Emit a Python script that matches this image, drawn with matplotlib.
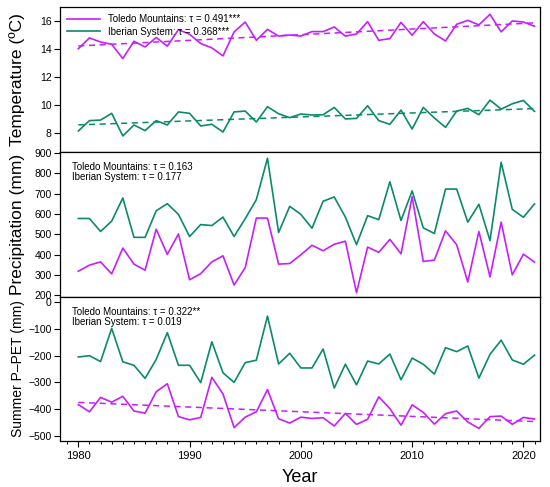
import numpy as np
import matplotlib
matplotlib.use("Agg")
import matplotlib.pyplot as plt
from matplotlib.ticker import MultipleLocator

plt.rcParams['font.family'] = ['Liberation Sans', 'DejaVu Sans']

years = np.arange(1980, 2022)

# mean temperature (ºC)
temp_toledo = [14.0, 14.77, 14.48, 14.32, 13.3, 14.53, 14.13, 14.8, 14.18, 15.36,
               15.03, 14.37, 14.06, 13.49, 15.2, 15.9, 14.6, 15.38, 14.9, 14.98,
               14.9, 15.22, 15.22, 15.55, 14.9, 15.05, 15.93, 14.6, 14.72, 15.88,
               14.96, 15.93, 15.05, 14.55, 15.74, 16.02, 15.7, 16.45, 15.2, 15.98,
               15.9, 15.6]
temp_iberian = [8.14, 8.88, 8.92, 9.4, 7.79, 8.57, 8.17, 8.88, 8.57, 9.5,
                9.4, 8.5, 8.62, 8.07, 9.5, 9.56, 8.78, 9.87, 9.37, 9.09,
                9.35, 9.28, 9.3, 9.82, 9.0, 9.04, 9.94, 8.88, 8.62, 9.63,
                8.28, 9.82, 9.07, 8.4, 9.56, 9.75, 9.3, 10.34, 9.7, 10.08,
                10.32, 9.54]

# precipitation (mm)
prec_toledo = [318, 348, 364, 305, 432, 353, 323, 525, 401, 502,
               276, 306, 364, 394, 250, 336, 580, 580, 353, 356,
               399, 446, 419, 451, 466, 212, 437, 411, 475, 404,
               685, 366, 373, 517, 449, 265, 514, 290, 560, 300,
               402, 363]
prec_iberian = [578, 578, 514, 565, 679, 485, 485, 616, 651, 598,
                489, 548, 543, 585, 489, 577, 671, 875, 509, 638,
                598, 530, 663, 684, 585, 449, 592, 572, 759, 568,
                714, 532, 504, 723, 723, 560, 648, 469, 855, 623,
                584, 650]

# summer P-PET (mm)
ppet_toledo = [-383, -410, -356, -374, -352, -407, -415, -335, -305, -428,
               -440, -431, -281, -343, -469, -430, -410, -327, -436, -452,
               -430, -435, -432, -463, -416, -457, -438, -354, -398, -460,
               -384, -412, -456, -417, -407, -448, -472, -428, -426, -457,
               -431, -437]
ppet_iberian = [-205, -200, -222, -98, -223, -236, -285, -214, -114, -236,
                -236, -301, -148, -264, -300, -226, -217, -52, -231, -191,
                -246, -246, -175, -321, -232, -309, -220, -231, -194, -290,
                -209, -232, -269, -170, -185, -164, -284, -195, -142, -216,
                -232, -198]

purple = '#c61eff'
green = '#0b8a6b'

fig, axes = plt.subplots(3, 1, figsize=(5.5, 4.87), dpi=100, sharex=True)
fig.subplots_adjust(left=0.109, right=0.982, top=0.985, bottom=0.094, hspace=0)


def trend(ax, y, color):
    k, b = np.polyfit(years, y, 1)
    ax.plot(years, k * years + b, color=color, lw=1.1, ls=(0, (4, 3)))


# panel 1 - temperature
ax = axes[0]
ax.plot(years, temp_toledo, color=purple, lw=1.2, label='Toledo Mountains: τ = 0.491***')
ax.plot(years, temp_iberian, color=green, lw=1.2, label='Iberian System: τ = 0.368***')
trend(ax, temp_toledo, purple)
trend(ax, temp_iberian, green)
ax.set_ylim(6.65, 16.95)
ax.set_yticks([8, 10, 12, 14, 16])
ax.set_ylabel('Temperature (ºC)', fontsize=12.5)
ax.legend(loc='upper left', frameon=False, fontsize=7, handlelength=3.4,
          handletextpad=0.8, labelspacing=0.25, borderaxespad=0.3)

# panel 2 - precipitation
ax = axes[1]
ax.plot(years, prec_toledo, color=purple, lw=1.2)
ax.plot(years, prec_iberian, color=green, lw=1.2)
ax.set_ylim(193, 906)
ax.set_yticks(range(200, 901, 100))
ax.set_ylabel('Precipitation (mm)', fontsize=12.5)
ax.text(0.025, 0.93, 'Toledo Mountains: τ = 0.163\nIberian System: τ = 0.177',
        transform=ax.transAxes, fontsize=7, va='top', linespacing=1.05)

# panel 3 - summer P-PET
ax = axes[2]
ax.plot(years, ppet_toledo, color=purple, lw=1.2)
ax.plot(years, ppet_iberian, color=green, lw=1.2)
trend(ax, ppet_toledo, purple)
ax.set_ylim(-520, 21)
ax.set_yticks(range(-500, 1, 100))
ax.set_ylabel('Summer P–PET (mm)', fontsize=10)
ax.text(0.025, 0.93, 'Toledo Mountains: τ = 0.322**\nIberian System: τ = 0.019',
        transform=ax.transAxes, fontsize=7, va='top', linespacing=1.05)
ax.set_xlabel('Year', fontsize=13)
ax.xaxis.set_label_coords(0.5, -0.25)
ax.xaxis.label.set_va('center')

ax.set_xlim(1978.35, 2021.5)
for ax in axes:
    ax.xaxis.set_major_locator(MultipleLocator(10))
    ax.xaxis.set_minor_locator(MultipleLocator(1))
    ax.tick_params(axis='both', which='major', direction='out', length=4, width=0.8,
                   labelsize=7.5, pad=2)
    ax.tick_params(axis='x', which='minor', direction='out', length=2.5, width=0.7)
    ax.tick_params(axis='x', labelsize=8, pad=3)
    ax.yaxis.set_label_coords(-0.072, 0.5)
    for s in ax.spines.values():
        s.set_linewidth(0.9)

fig.savefig('out.png', dpi=100)
